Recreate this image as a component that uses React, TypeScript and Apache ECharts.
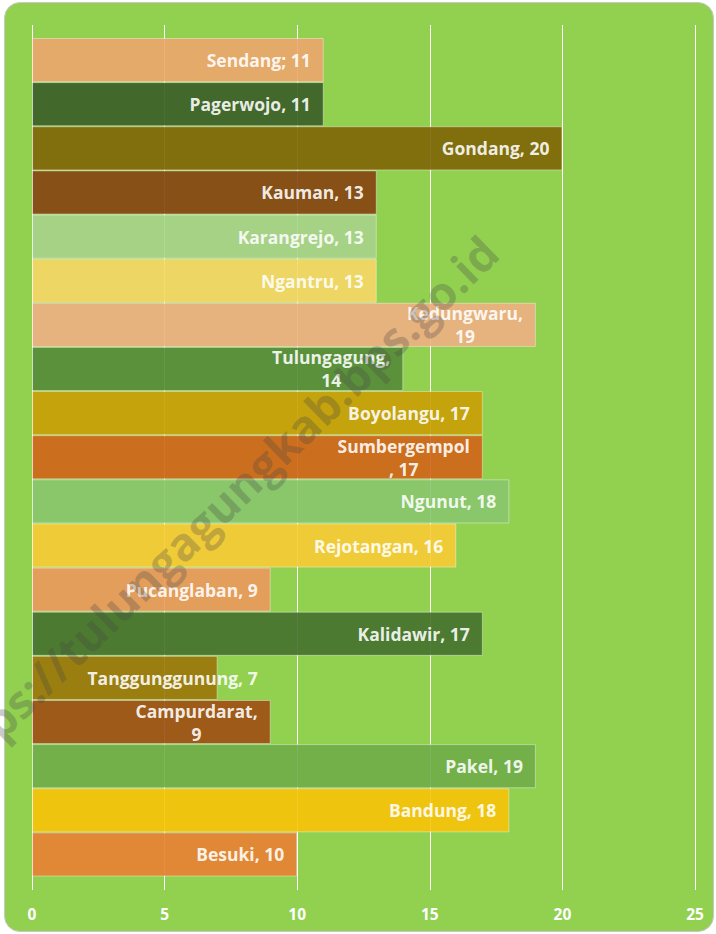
import React, { useEffect, useRef } from "react";
import * as echarts from "echarts";

const districts = [
  "Sendang", "Pagerwojo", "Gondang", "Kauman", "Karangrejo", "Ngantru",
  "Kedungwaru", "Tulungagung", "Boyolangu", "Sumbergempol", "Ngunut",
  "Rejotangan", "Pucanglaban", "Kalidawir", "Tanggunggunung", "Campurdarat",
  "Pakel", "Bandung", "Besuki",
];
const values = [11, 11, 20, 13, 13, 13, 19, 14, 17, 17, 18, 16, 9, 17, 7, 9, 19, 18, 10];
const labelTexts = [
  "Sendang; 11", "Pagerwojo, 11", "Gondang, 20", "Kauman, 13", "Karangrejo, 13",
  "Ngantru, 13", "Kedungwaru,\n19", "Tulungagung,\n14", "Boyolangu, 17",
  "Sumbergempol\n, 17", "Ngunut, 18", "Rejotangan, 16", "Pucanglaban, 9",
  "Kalidawir, 17", "Tanggunggunung, 7", "Campurdarat,\n9", "Pakel, 19",
  "Bandung, 18", "Besuki, 10",
];
const barColors = [
  "#E4A96A", "#43682B", "#816F0D", "#864F17", "#A7D186", "#EDD563",
  "#E7B17D", "#5B913B", "#C4A20D", "#CB6E1E", "#8AC56A", "#EFCB37",
  "#E39E5C", "#4D7A31", "#9A7E10", "#9D5A19", "#73B04A", "#EFC30F", "#E08835",
];
const xTicks = { min: 0, max: 25, interval: 5 };

const BG = [146, 208, 80];
const ALPHA = 0.9;
function unblend(hex: string): string {
  const n = parseInt(hex.slice(1), 16);
  const c = [(n >> 16) & 255, (n >> 8) & 255, n & 255];
  const s = c.map((v, i) => Math.max(0, Math.min(255, Math.round((v - (1 - ALPHA) * BG[i]) / ALPHA))));
  return `rgb(${s[0]},${s[1]},${s[2]})`;
}

const FONT = "Open Sans";
const LABEL_SIZE = 17.5;

export default function App() {
  const ref = useRef<HTMLDivElement>(null);
  useEffect(() => {
    document.body.style.margin = "0";
    if (!ref.current) return;
    const chart = echarts.init(ref.current, undefined, { renderer: "svg" });
    const data = values.map((v, i) => {
      const item: any = {
        value: v,
        name: districts[i],
        itemStyle: { color: unblend(barColors[i]), opacity: ALPHA },
      };
      if (districts[i] === "Tanggunggunung") item.label = { offset: [53, 0] };
      return item;
    });
    chart.setOption({
      animation: false,
      backgroundColor: "transparent",
      grid: [
        { left: 32, right: 21, top: 25, bottom: 44 },
        { left: 32, right: 21, top: 38, bottom: 57.5 },
      ],
      xAxis: [
        {
          type: "value", gridIndex: 0, ...xTicks,
          axisLine: { show: false }, axisTick: { show: false },
          splitLine: { show: true, lineStyle: { color: "#ffffff", width: 1 } },
          axisLabel: { color: "#ffffff", fontWeight: "bold", fontSize: 15.5, fontFamily: FONT, margin: 16 },
        },
        {
          type: "value", gridIndex: 1, ...xTicks, show: false,
          splitLine: { show: false },
        },
      ],
      yAxis: [
        { type: "category", gridIndex: 0, data: districts, inverse: true, show: false },
        { type: "category", gridIndex: 1, data: districts, inverse: true, show: false },
      ],
      series: [
        {
          type: "bar",
          xAxisIndex: 1,
          yAxisIndex: 1,
          barCategoryGap: "0%",
          data,
          itemStyle: { borderColor: "rgba(255,255,255,0.45)", borderWidth: 1 },
          label: {
            show: true,
            position: "insideRight",
            distance: 13,
            color: "#ffffff",
            fontWeight: "bold",
            fontSize: LABEL_SIZE,
            fontFamily: FONT,
            formatter: (p: any) =>
              labelTexts[p.dataIndex].split("\n").map((l) => `{c|${l}}`).join("\n"),
            rich: {
              c: { align: "center", color: "#ffffff", fontWeight: "bold", fontSize: LABEL_SIZE, fontFamily: FONT, lineHeight: 23 },
            },
          },
        },
      ],
      graphic: [
        {
          type: "text",
          x: 214,
          y: 511,
          rotation: 0.77,
          z: 100,
          silent: true,
          style: {
            text: "https://tulungagungkab.bps.go.id",
            fontSize: 46,
            fontWeight: "bold",
            fontFamily: FONT,
            fill: "rgba(70,70,70,0.28)",
            textAlign: "center",
            textVerticalAlign: "middle",
          },
        },
      ],
    });
    return () => chart.dispose();
  }, []);
  return (
    <div style={{ position: "relative", width: 716, height: 934, overflow: "hidden" }}>
      <div
        style={{
          position: "absolute", left: 4, top: 2, width: 708, height: 928,
          background: "#92D050", border: "1px solid #c8c8c8", borderRadius: 16,
        }}
      />
      <div ref={ref} style={{ position: "absolute", left: 0, top: 0, width: 716, height: 934 }} />
    </div>
  );
}
